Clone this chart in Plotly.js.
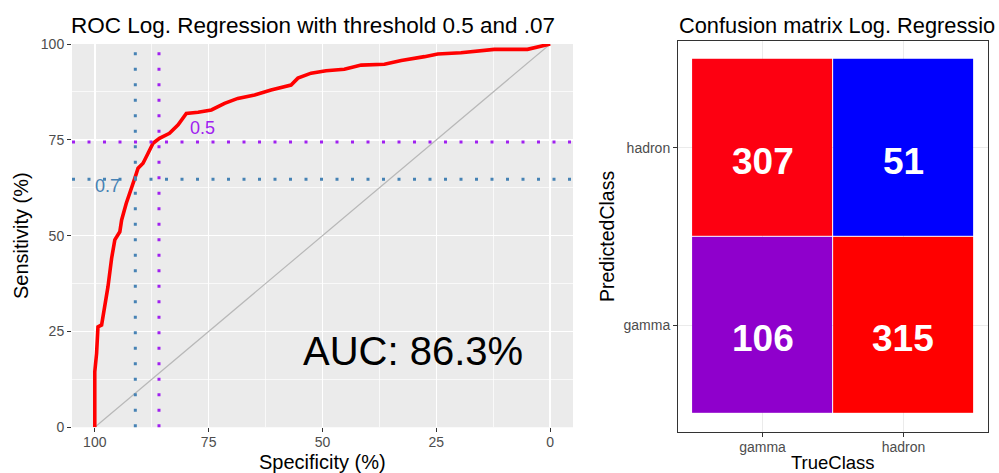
<!DOCTYPE html>
<html><head><meta charset="utf-8">
<script src="https://cdn.plot.ly/plotly-3.0.1.min.js"></script>
<style>html,body{margin:0;padding:0;background:#fff}#chart{width:999px;height:473px}</style>
</head><body><div id="chart"></div>
<script>
// ROC curve
const specificity = [100, 100, 99.6, 99.3, 98.5, 97.8, 97.1, 96.3, 95.6, 94.5, 94.1, 93.1, 92.0, 91.2, 90.5, 89.4, 88.3, 87.2, 85.8, 83.6, 81.7, 79.9, 77.3, 74.4, 71.5, 68.6, 64.9, 61.3, 56.9, 55.4, 52.5, 49.2, 45.2, 41.5, 36.4, 32.7, 27.6, 24.7, 19.6, 14.5, 12.3, 5.0, 2.0, 0];
const sensitivity = [0, 14.5, 19.3, 26.2, 26.7, 31.5, 36.7, 44.1, 48.9, 51.0, 54.1, 58.4, 61.9, 65.0, 67.6, 68.9, 71.5, 74.1, 75.4, 76.7, 78.9, 81.9, 82.2, 82.8, 84.5, 85.8, 86.7, 88.0, 89.3, 91.1, 92.4, 93.0, 93.4, 94.5, 94.7, 95.7, 96.7, 97.4, 97.7, 98.4, 98.6, 98.6, 99.5, 100];
const chanceSpec = [100, 0];
const chanceSens = [0, 100];
const thresholdNames = ['0.5', '0.7'];
const thresholdSpec = [85.9, 91.1];
const thresholdSens = [74.4, 64.7];
const thresholdLabelSpec = [76.3, 97.2];
const thresholdLabelSens = [78.1, 63.0];
const aucText = 'AUC: 86.3%';
const aucSpec = 30.1;
const aucSens = 19.8;
const rocTicks = [0, 25, 50, 75, 100];

// Confusion matrix
const trueClasses = ['gamma', 'hadron'];
const predictedClasses = ['gamma', 'hadron'];
const counts = [[106, 315], [307, 51]]; // rows: predicted gamma, predicted hadron

const thresholdColors = ['#A020F0', '#4682B4'];
const FONT = 'Liberation Sans, Arial, sans-serif';

// Lab interpolation (like ggplot's scale_fill_gradient low=blue high=red)
function toLin(c){c/=255;return c<=0.04045?c/12.92:Math.pow((c+0.055)/1.055,2.4);}
function fromLin(c){const v=c<=0.0031308?12.92*c:1.055*Math.pow(c,1/2.4)-0.055;return Math.round(Math.max(0,Math.min(1,v))*255);}
const WN=[0.95047,1,1.08883];
function rgb2lab(rgb){
  const [r,g,b]=rgb.map(toLin);
  const X=(0.4124564*r+0.3575761*g+0.1804375*b)/WN[0];
  const Y=(0.2126729*r+0.7151522*g+0.0721750*b)/WN[1];
  const Z=(0.0193339*r+0.1191920*g+0.9503041*b)/WN[2];
  const f=t=>t>216/24389?Math.cbrt(t):(24389/27*t+16)/116;
  const fx=f(X),fy=f(Y),fz=f(Z);
  return [116*fy-16,500*(fx-fy),200*(fy-fz)];
}
function lab2rgb(lab){
  const [L,a,bb]=lab;
  const fy=(L+16)/116, fx=fy+a/500, fz=fy-bb/200;
  const inv=t=>{const t3=t*t*t;return t3>216/24389?t3:(116*t-16)/(24389/27);};
  const X=inv(fx)*WN[0],Y=inv(fy)*WN[1],Z=inv(fz)*WN[2];
  const r=3.2404542*X-1.5371385*Y-0.4985314*Z;
  const g=-0.9692660*X+1.8760108*Y+0.0415560*Z;
  const b=0.0556434*X-0.2040259*Y+1.0572252*Z;
  return 'rgb('+fromLin(r)+','+fromLin(g)+','+fromLin(b)+')';
}
const labLow=rgb2lab([0,0,255]), labHigh=rgb2lab([255,0,0]);
const colorscale=[];
for(let i=0;i<=40;i++){const t=i/40;colorscale.push([t,lab2rgb(labLow.map((v,k)=>v+(labHigh[k]-v)*t))]);}
const flat=counts.flat();

const traces=[
  {type:'scatter',mode:'lines',x:chanceSpec,y:chanceSens,xaxis:'x',yaxis:'y',line:{color:'#B8B8B8',width:1.2},hoverinfo:'skip',showlegend:false},
  {type:'scatter',mode:'lines',x:specificity,y:sensitivity,xaxis:'x',yaxis:'y',line:{color:'#FF0000',width:3.6},showlegend:false},
  {type:'heatmap',x:trueClasses,y:predictedClasses,z:counts,xaxis:'x2',yaxis:'y2',colorscale:colorscale,zmin:Math.min(...flat),zmax:Math.max(...flat),showscale:false,xgap:1,ygap:1}
];

const shapes=[
  {type:'rect',xref:'x domain',yref:'y domain',x0:0,x1:1,y0:0,y1:1,fillcolor:'#EBEBEB',line:{width:0},layer:'below'}
];
thresholdSpec.forEach((v,i)=>{
  shapes.push({type:'line',xref:'x',yref:'y domain',x0:v,x1:v,y0:0,y1:1,line:{color:thresholdColors[i],width:3,dash:'3px,12.5px'},layer:'above'});
  shapes.push({type:'line',xref:'x domain',yref:'y',x0:0,x1:1,y0:thresholdSens[i],y1:thresholdSens[i],line:{color:thresholdColors[i],width:3,dash:'3px,12.5px'},layer:'above'});
});

const W=999,H=473;
const px=v=>v/W, py=v=>1-v/H;
const annotations=[
  {text:'ROC Log. Regression with threshold 0.5 and .07',xref:'paper',yref:'paper',x:px(69),y:py(25),xanchor:'left',yanchor:'middle',showarrow:false,font:{family:FONT,size:22.5,color:'#000'}},
  {text:'Confusion matrix Log. Regressio',xref:'paper',yref:'paper',x:px(677),y:py(25),xanchor:'left',yanchor:'middle',showarrow:false,font:{family:FONT,size:21.8,color:'#000'}},
  {text:'Specificity (%)',xref:'paper',yref:'paper',x:px(322),y:py(462),xanchor:'center',yanchor:'middle',showarrow:false,font:{family:FONT,size:20,color:'#000'}},
  {text:'Sensitivity (%)',xref:'paper',yref:'paper',x:px(21),y:py(236),xanchor:'center',yanchor:'middle',textangle:-90,showarrow:false,font:{family:FONT,size:20,color:'#000'}},
  {text:'TrueClass',xref:'paper',yref:'paper',x:px(833),y:py(462),xanchor:'center',yanchor:'middle',showarrow:false,font:{family:FONT,size:18.5,color:'#000'}},
  {text:'PredictedClass',xref:'paper',yref:'paper',x:px(607),y:py(237),xanchor:'center',yanchor:'middle',textangle:-90,showarrow:false,font:{family:FONT,size:19.5,color:'#000'}},
  {text:aucText,xref:'x',yref:'y',x:aucSpec,y:aucSens,xanchor:'center',yanchor:'middle',showarrow:false,font:{family:FONT,size:40,color:'#000'}}
];
thresholdNames.forEach((n,i)=>{
  annotations.push({text:n,xref:'x',yref:'y',x:thresholdLabelSpec[i],y:thresholdLabelSens[i],xanchor:'center',yanchor:'middle',showarrow:false,font:{family:FONT,size:18,color:thresholdColors[i]}});
});
predictedClasses.forEach((p,r)=>{
  trueClasses.forEach((t,c)=>{
    annotations.push({text:'<b>'+counts[r][c]+'</b>',xref:'x2',yref:'y2',x:t,y:p,xanchor:'center',yanchor:'top',yshift:9,showarrow:false,font:{family:FONT,size:37,color:'#FFFFFF'}});
  });
});

const tickFont={family:FONT,size:14,color:'#4D4D4D'};
const layout={
  width:W,height:H,margin:{l:0,r:0,t:0,b:0},
  paper_bgcolor:'#FFFFFF',plot_bgcolor:'#FFFFFF',
  showlegend:false,
  xaxis:{domain:[px(72),px(573)],range:[105,-5],tickmode:'array',tickvals:rocTicks,ticks:'outside',ticklen:4,tickwidth:1,tickcolor:'#333333',
    tickfont:tickFont,ticklabelstandoff:-2,showgrid:true,gridcolor:'#FFFFFF',gridwidth:1.5,zeroline:false,showline:false,
    minor:{dtick:12.5,tick0:0,showgrid:true,gridcolor:'#FFFFFF',gridwidth:0.7,ticks:''},anchor:'y'},
  yaxis:{domain:[1-427.3/H,1-44/H],range:[0,100],tickmode:'array',tickvals:rocTicks,ticks:'outside',ticklen:4,tickwidth:1,tickcolor:'#333333',
    tickfont:tickFont,showgrid:true,gridcolor:'#FFFFFF',gridwidth:1.5,zeroline:false,showline:false,
    minor:{dtick:12.5,tick0:0,showgrid:true,gridcolor:'#FFFFFF',gridwidth:0.7,ticks:''},anchor:'x'},
  xaxis2:{domain:[px(678),px(988)],type:'category',range:[-0.6,1.6],ticks:'outside',ticklen:4,tickwidth:1,tickcolor:'#333333',
    tickfont:tickFont,ticklabelstandoff:-2,showgrid:true,gridcolor:'#EBEBEB',gridwidth:1,zeroline:false,showline:true,linecolor:'#333333',linewidth:1,mirror:true,anchor:'y2'},
  yaxis2:{domain:[1-432/H,1-41/H],type:'category',range:[-0.6,1.6],ticks:'outside',ticklen:4,tickwidth:1,tickcolor:'#333333',
    tickfont:tickFont,showgrid:true,gridcolor:'#EBEBEB',gridwidth:1,zeroline:false,showline:true,linecolor:'#333333',linewidth:1,mirror:true,anchor:'x2'},
  shapes:shapes,annotations:annotations
};
Plotly.newPlot('chart',traces,layout,{staticPlot:true,displayModeBar:false});
</script></body></html>
